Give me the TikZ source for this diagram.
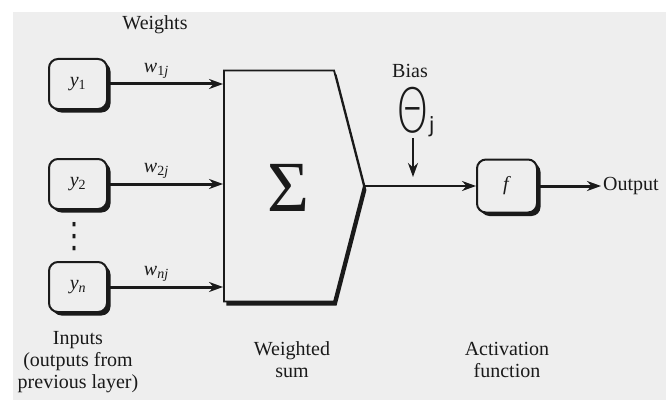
\documentclass[tikz,border=0pt]{standalone}
\usepackage{fontspec}
\setmainfont{Liberation Serif}
\newfontfamily\symfont{DejaVu Sans}
\newfontfamily\thinfont{DejaVu Sans ExtraLight}
\usetikzlibrary{arrows.meta,positioning,shapes.symbols,shadows}
\definecolor{paper}{HTML}{EEEEEE}
\definecolor{ink}{HTML}{1A1A1A}

\begin{document}
\begin{tikzpicture}[x=1pt,y=1pt,>={Stealth[length=14pt,width=10pt]},
  font=\fontsize{20}{22}\selectfont,color=ink,
  unit/.style={draw,line width=2pt,rounded corners=9pt,fill=paper,
    minimum width=58pt,minimum height=50pt,inner sep=0pt,
    drop shadow={fill=ink,opacity=1,shadow xshift=3.5pt,shadow yshift=-3.5pt}},
  wire/.style={->,line width=3pt},
  lbl/.style={align=center,inner sep=0pt}]
\useasboundingbox (0,0) rectangle (670,400);
\fill[paper] (13,0) rectangle (666,388);
% inputs
\node[unit] (y1) at (78,316) {\textit{y}\textsubscript{1}};
\node[unit] (y2) at (78,216) {\textit{y}\textsubscript{2}};
\node[unit] (yn) at (78,113) {\textit{y}\textsubscript{\textit{n}}};
\node (dots) at (74,163) {\symfont\fontsize{28}{28}\selectfont\scalebox{1}[1.25]{⋮}};
\node (wts) at (155,375) {Weights};
% summing junction
\node[signal,signal to=east,signal pointer angle=151,draw,line width=1.8pt,
  fill=paper,minimum width=140pt,minimum height=231pt,inner sep=0pt,
  drop shadow={fill=ink,opacity=1,shadow xshift=2.5pt,shadow yshift=-4pt}] (sum) at (279,214) {};
\node (sigma) at (288,212) {\fontsize{72}{72}\selectfont Σ};
\draw[wire] (y1) -- node[above=1pt,pos=0.42] {\textit{w}\textsubscript{1\textit{j}}} (y1 -| sum.west);
\draw[wire] (y2) -- node[above=1pt,pos=0.42] {\textit{w}\textsubscript{2\textit{j}}} (y2 -| sum.west);
\draw[wire] (yn) -- node[above=1pt,pos=0.42] {\textit{w}\textsubscript{\textit{nj}}} (yn -| sum.west);
% bias and activation
\node (bias) at (410,329) {Bias};
\node[anchor=base west,inner sep=0pt] (theta) at (396,268)
  {\thinfont\fontsize{61}{61}\selectfont\scalebox{0.68}[1]{Θ}\symfont\fontsize{21}{21}\selectfont j};
\coordinate (bt) at (413,262);
\coordinate (bb) at (413,223);
\draw[->,line width=2.4pt] (bt) -- (bb);
\node[unit,minimum width=60pt,minimum height=53pt] (f) at (507,214) {\textit{f}};
\draw[->,line width=2pt] (sum.east) -- (f);
\node[anchor=west,inner sep=2pt] (out) at (601,214) {Output};
\draw[wire] (f) -- (out);
% captions
\node[lbl] (cin) at (78,38) {Inputs\\(outputs from\\previous layer)};
\node[lbl] (csum) at (292,40) {Weighted\\sum};
\node[lbl] (cact) at (507,40) {Activation\\function};
\end{tikzpicture}
\end{document}
